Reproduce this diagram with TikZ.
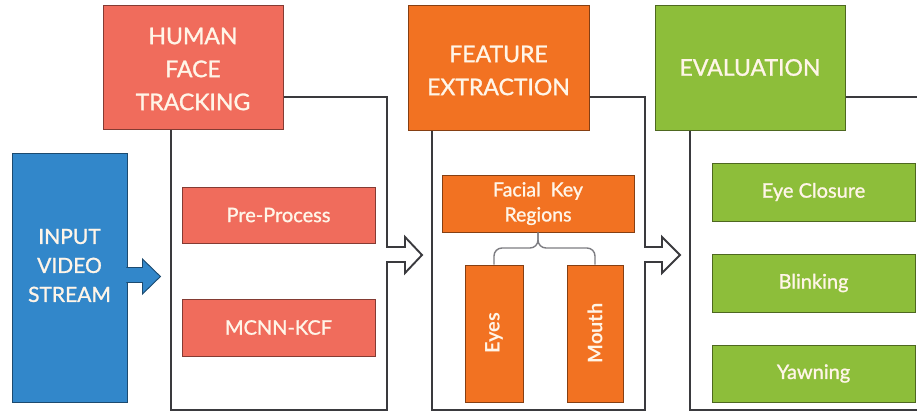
\documentclass[tikz,border=0pt]{standalone}
\usepackage{fontspec}
\setmainfont{Lato}
\newfontfamily\latomed{Lato}[FakeBold=1.2]
\usetikzlibrary{calc}
\definecolor{salmon}{RGB}{240,108,92}
\definecolor{orng}{RGB}{242,114,34}
\definecolor{grn}{RGB}{141,190,58}
\definecolor{blu}{RGB}{50,135,202}
\definecolor{ink}{RGB}{255,245,232}
\definecolor{framecol}{RGB}{58,58,62}
\definecolor{bracecol}{RGB}{125,125,130}
\tikzset{
  box/.style={draw=#1!55!black, fill=#1, line width=0.9pt, inner sep=0pt,
              text=ink, align=center},
  headtxt/.style={font=\latomed\fontsize{23}{33}\selectfont},
  subtxt/.style={font=\latomed\fontsize{20}{24}\selectfont},
  vtxt/.style={rotate=90, text=ink, font=\fontsize{20}{24}\selectfont\bfseries},
  frameline/.style={draw=framecol, line width=1.9pt, line join=miter},
  bracepath/.style={draw=bracecol, line width=1.4pt, rounded corners=8pt},
}
\begin{document}
\begin{tikzpicture}[x=1pt,y=-1pt]
\useasboundingbox (0,0) rectangle (917,412);
\clip (0,0) rectangle (917,412);
\fill[white] (0,0) rectangle (917,412);

% ---- frames behind the stage headers ----
\draw[frameline] (171,129) -- (171,410) -- (387,410) -- (387,262) -- (405,262)
  -- (405,273) -- (422,255) -- (405,237) -- (405,247) -- (387,247) -- (387,97) -- (283,97);
\draw[frameline] (432,130) -- (432,410) -- (645,410) -- (645,262) -- (662,262)
  -- (662,273) -- (680,255) -- (662,237) -- (662,247) -- (645,247) -- (645,97) -- (589,97);
\draw[frameline] (690,130) -- (690,410) -- (930,410);
\draw[frameline] (930,97) -- (845,97);

% ---- stage headers ----
\node[box=salmon, minimum width=180pt, minimum height=124pt] (hft) at (193,67) {};
\node[headtxt, text=ink, align=center] (hfttxt) at ([yshift=-2pt]hft.center) {HUMAN\\FACE\\TRACKING};
\node[box=orng, minimum width=181pt, minimum height=125pt] (fe) at (498.5,67.5) {};
\node[headtxt, text=ink, align=center] (fetxt) at ([yshift=-3pt]fe.center) {FEATURE\\EXTRACTION};
\node[box=grn, headtxt, minimum width=190pt, minimum height=125pt] (ev) at (750,67.5)
  {EVALUATION};

% ---- input ----
\node[box=blu, minimum width=115pt, minimum height=249pt] (inp) at (69.5,277.5) {};
\node[text=ink, align=center, font=\latomed\fontsize{21}{29}\selectfont] (inptxt)
  at ([yshift=12pt]inp.center) {INPUT\\VIDEO\\STREAM};
\draw[draw=blu!55!black, fill=blu, line width=0.9pt, line join=miter]
  ($(inp.east)+(-1,-10)$) -- ($(inp.east)+(15,-10)$) -- ($(inp.east)+(15,-18.5)$)
  -- ($(inp.east)+(33,-1)$) -- ($(inp.east)+(15,16.5)$) -- ($(inp.east)+(15,5)$)
  -- ($(inp.east)+(-1,5)$);
\fill[blu] ($(inp.east)+(-3,-9.5)$) rectangle ($(inp.east)+(1,4.5)$);

% ---- face tracking steps ----
\node[box=salmon, subtxt, minimum width=193pt, minimum height=56pt] (pre) at (278.5,215) {Pre-Process};
\node[box=salmon, subtxt, minimum width=193pt, minimum height=57pt] (mcnn) at (278.5,327.5) {MCNN-KCF};

% ---- feature extraction ----
\node[box=orng, font=\latomed\fontsize{19.5}{25}\selectfont, minimum width=192pt, minimum height=57pt] (fkr)
  at (538,203.5) {Facial\ \ Key\\Regions};
\node[box=orng, minimum width=58pt, minimum height=137pt] (eyes) at (494,333.5) {};
\node[box=orng, minimum width=56pt, minimum height=137pt] (mouth) at (595,333.5) {};
\node[vtxt] (eyestxt) at (eyes.center) {Eyes};
\node[vtxt] (mouthtxt) at (mouth.center) {Mouth};
\draw[bracepath] (fkr.south) -- (fkr.south |- 0,248) -| (eyes.north);
\draw[bracepath] (fkr.south) -- (fkr.south |- 0,248) -| (mouth.north);

% ---- evaluation ----
\node[box=grn, subtxt, minimum width=203pt, minimum height=58pt] (eyec) at (813.5,192) {Eye Closure};
\node[box=grn, subtxt, minimum width=203pt, minimum height=58pt] (blink) at (813.5,283) {Blinking};
\node[box=grn, subtxt, minimum width=203pt, minimum height=57pt] (yawn) at (813.5,373.5) {Yawning};
\end{tikzpicture}
\end{document}
